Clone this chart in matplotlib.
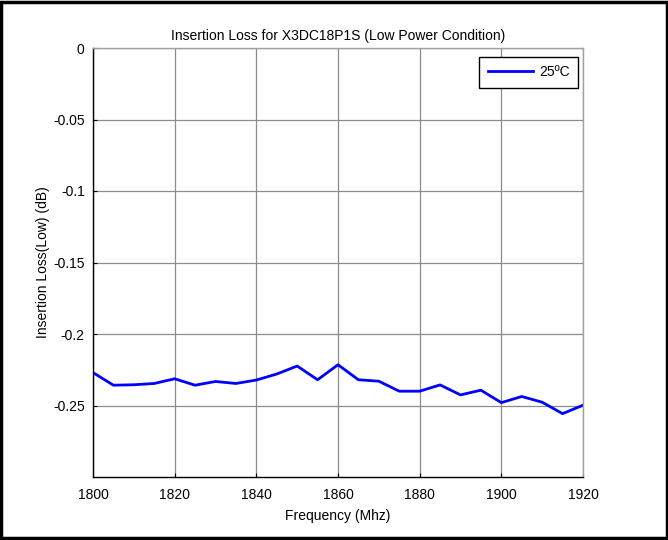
import matplotlib
matplotlib.use("Agg")
import matplotlib.pyplot as plt
import numpy as np

plt.rcParams['font.family'] = ['Liberation Sans', 'DejaVu Sans']

# data
freq = [1800, 1805, 1810, 1815, 1820, 1825, 1830, 1835, 1840, 1845, 1850, 1855, 1860,
        1865, 1870, 1875, 1880, 1885, 1890, 1895, 1900, 1905, 1910, 1915, 1920]
loss_25c = [-0.227, -0.2358, -0.2355, -0.2346, -0.2313, -0.2358, -0.2332, -0.2346, -0.2322,
            -0.228, -0.2224, -0.232, -0.2215, -0.232, -0.233, -0.240, -0.240, -0.2356,
            -0.2426, -0.2393, -0.248, -0.2437, -0.2477, -0.2557, -0.2498]
x_ticks = [1800, 1820, 1840, 1860, 1880, 1900, 1920]
y_ticks = [0, -0.05, -0.1, -0.15, -0.2, -0.25]
y_tick_labels = ['0', '-0.05', '-0.1', '-0.15', '-0.2', '-0.25']

fig = plt.figure(figsize=(6.68, 5.40), dpi=100)
ax = fig.add_axes([93 / 668, 63 / 540, 490 / 668, 429 / 540])

ax.plot(freq, loss_25c, color='#0000ff', lw=2, label='25ºC')

ax.set_xlim(1800, 1920)
ax.set_ylim(-0.3, 0)
ax.set_xticks(x_ticks)
ax.set_yticks(y_ticks)
ax.set_yticklabels(y_tick_labels)
ax.tick_params(direction='in', length=3, labelsize=10, colors='black')
ax.tick_params(axis='x', pad=8)
ax.tick_params(axis='y', pad=6)
ax.grid(True, color='#8c8c8c', lw=0.9)
ax.set_axisbelow(True)
for s in ['left', 'bottom']:
    ax.spines[s].set_color('black')
    ax.spines[s].set_linewidth(1.0)
for s in ['top', 'right']:
    ax.spines[s].set_color('#a0a0a0')
    ax.spines[s].set_linewidth(1.0)

ax.set_title('Insertion Loss for X3DC18P1S (Low Power Condition)', fontsize=10, pad=6)
ax.set_xlabel('Frequency (Mhz)', fontsize=10, labelpad=5)
ax.set_ylabel('Insertion Loss(Low) (dB)', fontsize=10, labelpad=2)

leg = ax.legend(loc='upper right', bbox_to_anchor=(1 - 5 / 490, 1 - 9 / 429),
                borderaxespad=0, fontsize=10, fancybox=False, framealpha=1,
                edgecolor='black', handlelength=3.3, handletextpad=0.4,
                borderpad=0.6)
leg.get_frame().set_linewidth(1.0)

# black border around the whole image
fig.patches.append(plt.Rectangle((0.002, 0.003), 0.996, 0.994, transform=fig.transFigure,
                                 fill=False, edgecolor='black', lw=2.5))

fig.savefig('out.png', dpi=100)
